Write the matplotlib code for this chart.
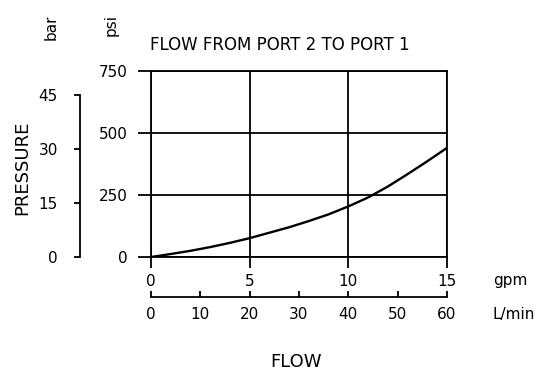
import matplotlib
matplotlib.use("Agg")
import matplotlib.pyplot as plt

# curve (flow in gpm, pressure in psi)
flow_gpm = [0, 1, 2, 3, 4, 5, 6, 7, 8, 9, 10, 11, 12, 13, 14, 15]
pressure_psi = [0, 12, 25, 40, 57, 76, 98, 120, 145, 172, 204, 240, 284, 334, 386, 440]

gpm_ticks = [0, 5, 10, 15]
psi_ticks = [0, 250, 500, 750]
bar_ticks = [0, 15, 30, 45]
lpm_ticks = [0, 10, 20, 30, 40, 50, 60]

PSI_PER_BAR = 14.5038
LPM_PER_GPM = 3.78541

W, H = 537, 372
plt.rcParams["font.family"] = ["DejaVu Sans"]
plt.rcParams["font.size"] = 11

fig = plt.figure(figsize=(W / 100, H / 100), dpi=100)


def fx(px):
    return px / W


def fy(py):
    return 1 - py / H


x0, x1 = 151, 447
y0, y1 = 257, 71
ax = fig.add_axes([fx(x0), fy(y0), fx(x1 - x0), (y0 - y1) / H])
ax.plot(flow_gpm, pressure_psi, color="black", lw=1.7)
ax.set_xlim(0, 15)
ax.set_ylim(0, 750)
ax.set_xticks(gpm_ticks)
ax.set_yticks(psi_ticks)
ax.grid(True, color="black", lw=1.3)
for s in ax.spines.values():
    s.set_linewidth(1.3)
ax.tick_params(axis="both", direction="out", width=1.3, color="black")
ax.tick_params(axis="y", length=9.5, pad=7)
ax.tick_params(axis="x", length=8, pad=4)

# bar axis on the far left
axb = fig.add_axes([fx(80), fy(y0), 0.001, (y0 - y1) / H])
axb.set_ylim(0, 750 / PSI_PER_BAR)
axb.set_yticks(bar_ticks)
axb.set_xticks([])
for k in ("top", "right", "bottom"):
    axb.spines[k].set_visible(False)
axb.spines["left"].set_bounds(0, 45)
axb.spines["left"].set_linewidth(1.3)
axb.tick_params(axis="y", length=4, width=1.3, pad=12)
axb.patch.set_visible(False)

# L/min axis under the plot
axl = fig.add_axes([fx(x0), fy(297), fx(x1 - x0), 0.001])
axl.set_xlim(0, 15 * LPM_PER_GPM)
axl.set_xticks(lpm_ticks)
axl.set_yticks([])
for k in ("top", "right", "left"):
    axl.spines[k].set_visible(False)
axl.spines["bottom"].set_bounds(0, 60)
axl.spines["bottom"].set_linewidth(1.3)
axl.tick_params(axis="x", direction="in", length=4, width=1.3, pad=7)
axl.patch.set_visible(False)

fig.text(fx(150), fy(45), "FLOW FROM PORT 2 TO PORT 1", ha="left", va="center", fontsize=12)
fig.text(fx(22), fy(168), "PRESSURE", rotation=90, ha="center", va="center", fontsize=13)
fig.text(fx(51), fy(27), "bar", rotation=90, ha="center", va="center")
fig.text(fx(111), fy(25), "psi", rotation=90, ha="center", va="center")
fig.text(fx(493), fy(280), "gpm", ha="left", va="center")
fig.text(fx(492), fy(315), "L/min", ha="left", va="center")
fig.text(fx(296), fy(362), "FLOW", ha="center", va="center", fontsize=13)

fig.savefig("out.png", dpi=100)
